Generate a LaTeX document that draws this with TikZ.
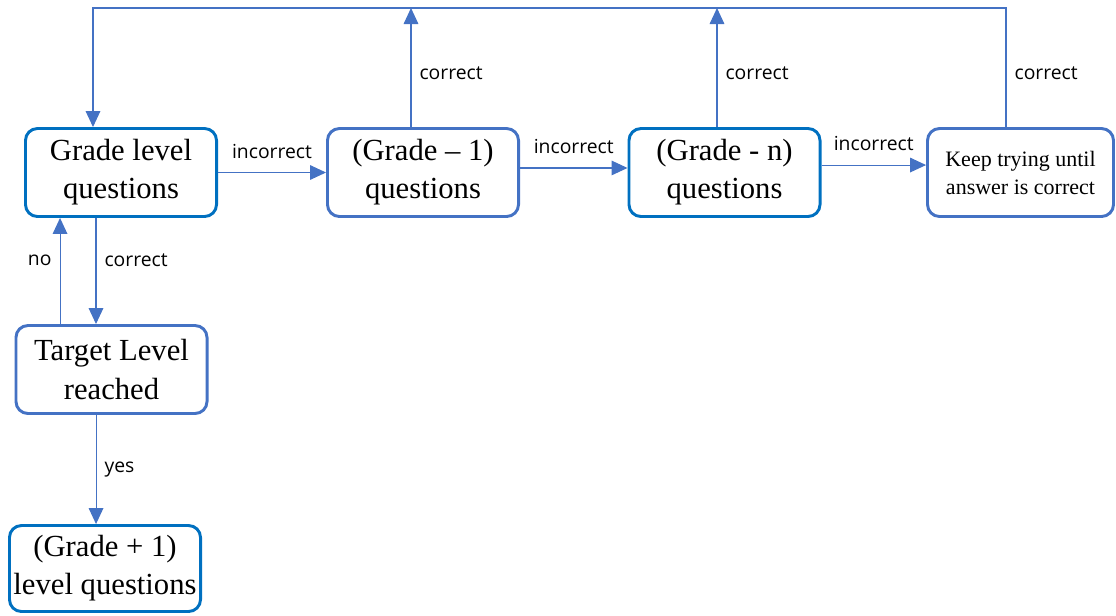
\documentclass[tikz,border=0pt]{standalone}
\usepackage{fontspec}
\setmainfont{Liberation Serif}
\newfontfamily\lblfont{Open Sans}
\usetikzlibrary{arrows.meta}
\definecolor{darkblue}{HTML}{0070C0}
\definecolor{midblue}{HTML}{4472C4}
\begin{document}
\begin{tikzpicture}[x=0.75pt, y=-0.75pt, >={Triangle[length=12pt,width=11pt]},
  box/.style={draw=midblue, line width=2.2pt, rounded corners=9pt, align=center,
    minimum width=143.3pt, minimum height=66pt, inner sep=0pt,
    font=\fontsize{23}{28.5}\selectfont},
  dbox/.style={box, draw=darkblue},
  lbl/.style={font=\lblfont\fontsize{14.5}{17}\selectfont, inner sep=2pt},
  conn/.style={->, draw=midblue, line width=0.8pt}]
\useasboundingbox (0,0) rectangle (1116,615);

\node[dbox] (g0) at (121,172.5) {Grade level\\questions};
\node[box] (g1) at (423,172.5) {(Grade -- 1)\\questions};
\node[dbox] (gn) at (724.5,172.5) {(Grade - n)\\questions};
\node[box, minimum width=139.5pt, font=\fontsize{16.5}{21}\selectfont] (keep) at (1020.5,172.5) {Keep trying until\\answer is correct};

\node[box] (target) at (111.5,369.5) {Target Level\\reached};
\node[dbox, minimum height=64.5pt] (g2) at (105,568.5) {(Grade + 1)\\level questions};

\coordinate (top1) at (411,8);
\coordinate (topn) at (717,8);
\coordinate (topk) at (1006,8);
\coordinate (top0) at (93,8);

\draw[conn] (g0.east) -- (g0.east -| g1.west) node[lbl, midway, above=8pt] {incorrect};
\draw[conn] ([yshift=3.4pt]g1.east) -- ([yshift=3.4pt]gn.west) node[lbl, midway, above=8pt] {incorrect};
\draw[conn] ([yshift=5.6pt]gn.east) -- ([yshift=5.6pt]keep.west) node[lbl, midway, above=8pt] {incorrect};

\draw[conn] (g1.north -| top1) -- (top1) node[lbl, pos=0.45, right=4pt] {correct};
\draw[conn] (gn.north -| topn) -- (topn) node[lbl, pos=0.45, right=4pt] {correct};
\draw[conn] (keep.north -| topk) -- (topk) node[lbl, pos=0.45, right=4pt] {correct}
  -- (top0) -- (top0 |- g0.north);

\draw[conn] ([xshift=-18.75pt]g0.south) -- ([xshift=-18.75pt]g0.south |- target.north) node[lbl, pos=0.4, right=4pt] {correct};
\draw[conn] ([xshift=-38.6pt]target.north) -- ([xshift=-38.6pt]target.north |- g0.south) node[lbl, pos=0.6, left=4pt] {no};
\draw[conn] ([xshift=-11.6pt]target.south) -- ([xshift=-11.6pt]target.south |- g2.north) node[lbl, midway, right=4pt] {yes};
\end{tikzpicture}
\end{document}
